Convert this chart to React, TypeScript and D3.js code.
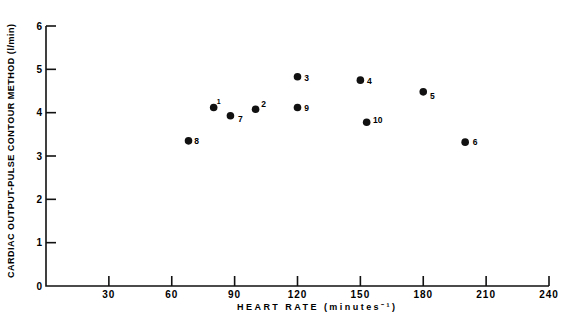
import { useEffect, useRef } from 'react';
import * as d3 from 'd3';

// subject numbers, heart rate (min^-1) and cardiac output (l/min)
const subjects = ['1', '2', '3', '4', '5', '6', '7', '8', '9', '10'];
const heartRate = [80, 100, 120, 150, 180, 200, 88, 68, 120, 153];
const cardiacOutput = [4.12, 4.08, 4.83, 4.75, 4.48, 3.32, 3.93, 3.35, 4.12, 3.78];

const xTicks = [30, 60, 90, 120, 150, 180, 210, 240];
const yTicks = [0, 1, 2, 3, 4, 5, 6];

const xTitle = 'HEART RATE  (minutes\u207B\u00B9)';
const yTitle = 'CARDIAC  OUTPUT-PULSE  CONTOUR  METHOD (l/min)';

// where each subject number sits next to its dot
const labelNudge = {
    '1': [5, -6], '2': [8, -5], '3': [9, 1], '4': [9, 1], '5': [9, 4],
    '6': [10, 0], '7': [10, 3], '8': [8, 0], '9': [9, 1], '10': [11, -2],
};

const App = () => {
    const ref = useRef(null);

    useEffect(() => {
        const svg = d3.select(ref.current);
        svg.selectAll('*').remove();

        const x = d3.scaleLinear().domain([0, 240]).range([46, 549]);
        const y = d3.scaleLinear().domain([0, 6]).range([286, 26]);
        const font = '"Liberation Sans", Arial, sans-serif';

        // axes lines
        svg.append('path')
            .attr('d', `M${x(0)},${y(6)} V${y(0)} H${x(240)}`)
            .attr('fill', 'none')
            .attr('stroke', '#111')
            .attr('stroke-width', 1.6);

        // y ticks point inward
        svg.selectAll('.ytick')
            .data(yTicks.filter(d => d > 0))
            .enter().append('line')
            .attr('x1', x(0)).attr('x2', x(0) + 10)
            .attr('y1', d => y(d)).attr('y2', d => y(d))
            .attr('stroke', '#111').attr('stroke-width', 1.6);

        svg.selectAll('.ylab')
            .data(yTicks)
            .enter().append('text')
            .attr('x', 42)
            .attr('y', d => y(d) + 3.5)
            .attr('text-anchor', 'end')
            .attr('font-family', font)
            .attr('font-weight', 'bold')
            .attr('font-size', 10)
            .text(d => d);

        // x ticks point up
        svg.selectAll('.xtick')
            .data(xTicks)
            .enter().append('line')
            .attr('x1', d => x(d)).attr('x2', d => x(d))
            .attr('y1', y(0)).attr('y2', y(0) - 10)
            .attr('stroke', '#111').attr('stroke-width', 1.6);

        svg.selectAll('.xlab')
            .data(xTicks)
            .enter().append('text')
            .attr('x', d => x(d))
            .attr('y', 298)
            .attr('text-anchor', 'middle')
            .attr('font-family', font)
            .attr('font-weight', 'bold')
            .attr('font-size', 10)
            .attr('letter-spacing', 1)
            .text(d => d);

        // axis titles
        svg.append('text')
            .attr('x', 237)
            .attr('y', 310)
            .attr('font-family', font)
            .attr('font-weight', 'bold')
            .attr('font-size', 9)
            .attr('textLength', 158)
            .attr('lengthAdjust', 'spacing')
            .text(xTitle);

        svg.append('text')
            .attr('transform', 'translate(14,278) rotate(-90)')
            .attr('font-family', font)
            .attr('font-weight', 'bold')
            .attr('font-size', 9)
            .attr('textLength', 254)
            .attr('lengthAdjust', 'spacing')
            .text(yTitle);

        // points
        const data = subjects.map((s, i) => ({ s, hr: heartRate[i], co: cardiacOutput[i] }));

        svg.selectAll('circle')
            .data(data)
            .enter().append('circle')
            .attr('cx', d => x(d.hr))
            .attr('cy', d => y(d.co))
            .attr('r', 3.8)
            .attr('fill', '#111');

        svg.selectAll('.plab')
            .data(data)
            .enter().append('text')
            .attr('x', d => x(d.hr) + labelNudge[d.s][0])
            .attr('y', d => y(d.co) + labelNudge[d.s][1] + 3)
            .attr('text-anchor', 'middle')
            .attr('font-family', font)
            .attr('font-weight', 'bold')
            .attr('font-size', d => (d.s === '1' ? 7 : 8.5))
            .text(d => d.s);
    }, []);

    return (
        <svg
            ref={ref}
            width={568}
            height={320}
            style={{ position: 'absolute', left: 0, top: 0, background: '#fff' }}
        />
    );
};

export default App;
